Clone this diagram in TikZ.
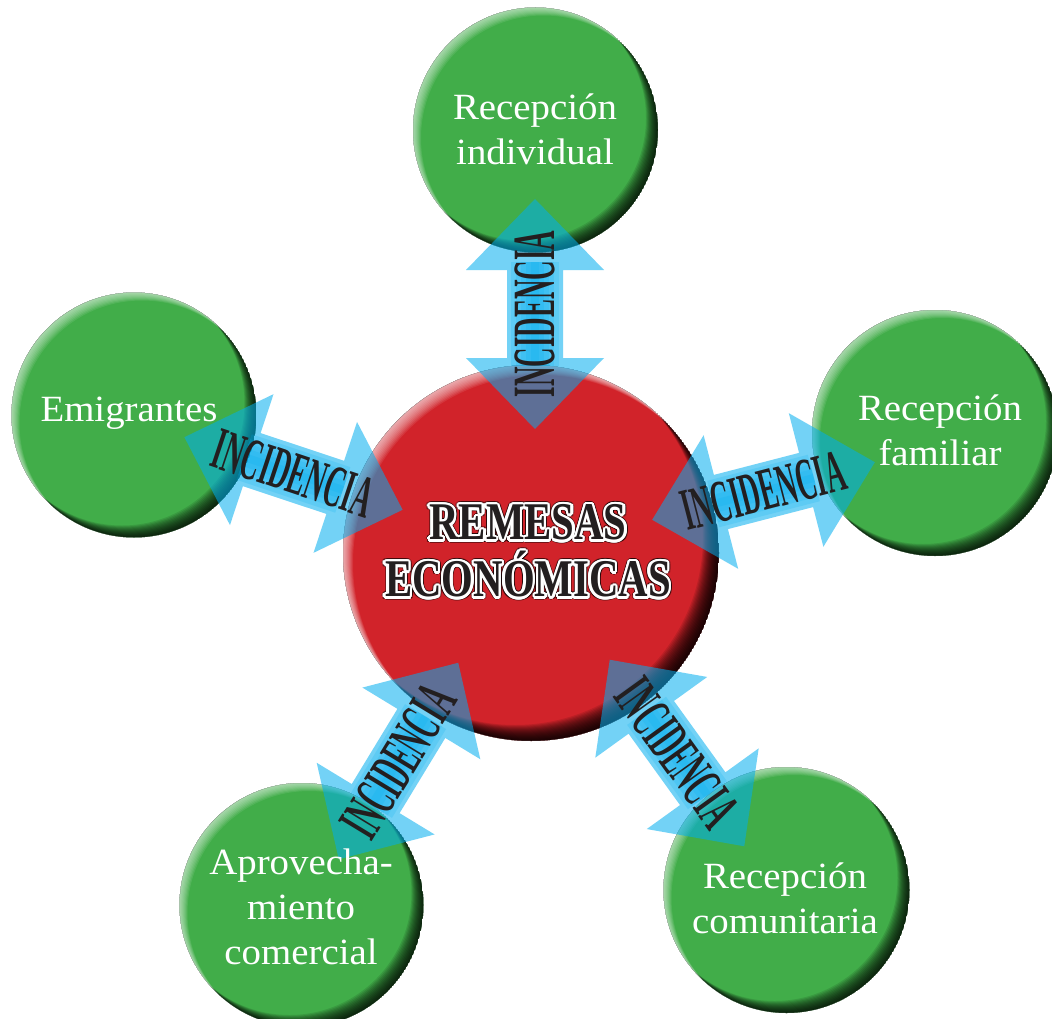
\documentclass[tikz,border=0pt]{standalone}
\usepackage{fontspec}
\usetikzlibrary{calc}
\setmainfont{Liberation Serif}
\newfontfamily\labelfont{Liberation Serif}[FakeStretch=1.05]
\newfontfamily\incfont{Liberation Serif}[FakeStretch=0.45]
\newfontfamily\titlefont{Liberation Serif}[FakeStretch=0.77]
\definecolor{gbase}{HTML}{41AD49}
\definecolor{rbase}{HTML}{D1232A}
\definecolor{arrcyan}{HTML}{00AEEF}
\definecolor{inkdark}{HTML}{231F20}
\tikzset{
  lbl/.style={text=white, font=\labelfont\fontsize{37}{45}\selectfont, align=center, inner sep=0pt},
  inc/.style={text=inkdark, font=\incfont\bfseries\fontsize{60}{60}\selectfont, inner sep=0pt},
  ttl/.style={font=\titlefont\bfseries\fontsize{53}{57}\selectfont, align=center, inner sep=0pt},
  arrbody/.style={fill=arrcyan, opacity=0.55},
  arrband/.style={fill=arrcyan, opacity=0.18}
}
% bevelled disc: #1 centre, #2 radius, #3 colour, #4 shadow steps, #5 highlight steps
\newcommand\bevel[5]{%
  \begin{scope}
    \clip (#1) circle (#2);
    \fill[#3] (#1) circle (#2);
    \foreach \d in {1,...,#4}{\fill[black,opacity=0.11,even odd rule] (#1) circle (#2) ($(#1)+(-\d,-\d)$) circle (#2);}
    \foreach \d in {1,...,#5}{\fill[white,opacity=0.09,even odd rule] (#1) circle (#2) ($(#1)+(\d,\d)$) circle (#2);}
  \end{scope}}
% double arrow with text: #1 name, #2 centre, #3 angle
\newcommand\incarrow[3]{%
  \begin{scope}[shift={(#2)}, rotate=#3]
    \fill[arrbody] (-115,0) -- (-44,69) -- (-44,28) -- (44,28) -- (44,69) -- (115,0)
       -- (44,-69) -- (44,-28) -- (-44,-28) -- (-44,-69) -- cycle;
    \foreach \w in {24,19,14,9,4}{\fill[arrband] (-52,-\w) rectangle (52,\w);}
    \node[inc, rotate=#3] (#1) at (0,0) {INCIDENCIA};
  \end{scope}}
\newcommand\outlined[3]{%
  \foreach \a in {0,22.5,...,337.5}{\node[ttl, text=black, opacity=0.45] at ($(#1)+(\a:3.4pt)$) {#2};}
  \foreach \a in {0,22.5,...,337.5}{\node[ttl, text=white] at ($(#1)+(\a:2.4pt)$) {#2};}
  \node[ttl, text=inkdark] (#3) at (#1) {#2};}

\begin{document}
\begin{tikzpicture}[x=1pt,y=-1pt]
\useasboundingbox (0,0) rectangle (1052,1019);
\fill[white] (0,0) rectangle (1052,1019);

\coordinate (ctr)  at (531,553);
\coordinate (cTop) at (535.5,130);
\coordinate (cEmi) at (134,415);
\coordinate (cFam) at (935,433);
\coordinate (cApr) at (301.5,905);
\coordinate (cCom) at (786.5,890);

\bevel{cTop}{122.5pt}{gbase}{12}{8}
\bevel{cEmi}{122.5pt}{gbase}{12}{8}
\bevel{cFam}{123pt}{gbase}{12}{8}
\bevel{cApr}{122pt}{gbase}{12}{8}
\bevel{cCom}{123pt}{gbase}{12}{8}
\bevel{ctr}{188pt}{rbase}{16}{10}

\coordinate (aTop) at (535,314);
\coordinate (aEmi) at (293.5,473.5);
\coordinate (aFam) at (763.5,491);
\coordinate (aApr) at (398.5,761);
\coordinate (aCom) at (677,753);

\incarrow{incTop}{aTop}{90}
\incarrow{incEmi}{aEmi}{-18.4}
\incarrow{incFam}{aFam}{14.5}
\incarrow{incApr}{aApr}{58.7}
\incarrow{incCom}{aCom}{-54.2}

\node[lbl] (lTop) at (535,129) {Recepción\\individual};
\node[lbl] (lEmi) at (129,413) {Emigrantes};
\node[lbl] (lFam) at (940,430) {Recepción\\familiar};
\node[lbl] (lApr) at (301,907) {Aprovecha-\\miento\\comercial};
\node[lbl] (lCom) at (785,898) {Recepción\\comunitaria};

\coordinate (tpos) at (528,551);
\outlined{tpos}{REMESAS\\ECONÓMICAS}{title}
\end{tikzpicture}
\end{document}
